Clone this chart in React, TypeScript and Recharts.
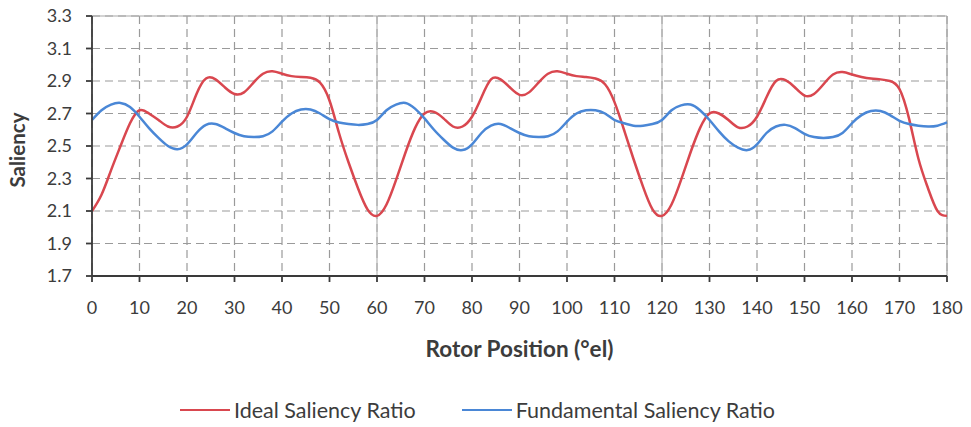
import {
  LineChart,
  Line,
  XAxis,
  YAxis,
  CartesianGrid,
  ReferenceLine,
  Legend,
} from 'recharts';

// rotor position, °el (2° steps)
const POSITIONS = [
  0, 2, 4, 6, 8, 10, 12, 14, 16, 18, 20, 22, 24, 26, 28, 30, 32, 34, 36, 38,
  40, 42, 44, 46, 48, 50, 52, 54, 56, 58, 60, 62, 64, 66, 68, 70, 72, 74, 76, 78,
  80, 82, 84, 86, 88, 90, 92, 94, 96, 98, 100, 102, 104, 106, 108, 110, 112, 114, 116, 118,
  120, 122, 124, 126, 128, 130, 132, 134, 136, 138, 140, 142, 144, 146, 148, 150, 152, 154, 156, 158,
  160, 162, 164, 166, 168, 170, 172, 174, 176, 178, 180,
];

const IDEAL = [
  2.10, 2.20, 2.35, 2.50, 2.64, 2.72, 2.70, 2.66, 2.62, 2.62, 2.68, 2.82, 2.915, 2.91, 2.86, 2.82, 2.83, 2.89, 2.945, 2.96,
  2.945, 2.93, 2.925, 2.92, 2.89, 2.78, 2.58, 2.40, 2.24, 2.11, 2.07, 2.14, 2.29, 2.46, 2.61, 2.70, 2.71, 2.67, 2.62, 2.62,
  2.68, 2.80, 2.91, 2.91, 2.86, 2.815, 2.83, 2.89, 2.945, 2.96, 2.945, 2.93, 2.925, 2.915, 2.88, 2.77, 2.60, 2.42, 2.25, 2.11,
  2.07, 2.14, 2.29, 2.46, 2.61, 2.70, 2.70, 2.66, 2.615, 2.62, 2.68, 2.80, 2.90, 2.905, 2.86, 2.81, 2.82, 2.88, 2.94, 2.955,
  2.94, 2.925, 2.915, 2.91, 2.90, 2.85, 2.67, 2.42, 2.24, 2.10, 2.07,
];

const FUNDAMENTAL = [
  2.66, 2.72, 2.755, 2.765, 2.74, 2.68, 2.61, 2.55, 2.50, 2.48, 2.51, 2.58, 2.63, 2.635, 2.61, 2.58, 2.56, 2.555, 2.56, 2.59,
  2.65, 2.70, 2.725, 2.725, 2.70, 2.665, 2.645, 2.635, 2.63, 2.635, 2.66, 2.72, 2.755, 2.765, 2.73, 2.67, 2.60, 2.54, 2.49, 2.475,
  2.51, 2.58, 2.625, 2.635, 2.61, 2.58, 2.56, 2.555, 2.56, 2.59, 2.65, 2.70, 2.72, 2.72, 2.70, 2.66, 2.64, 2.625, 2.625, 2.635,
  2.66, 2.72, 2.75, 2.755, 2.72, 2.66, 2.59, 2.53, 2.49, 2.475, 2.51, 2.58, 2.62, 2.63, 2.61, 2.575, 2.555, 2.55, 2.555, 2.58,
  2.64, 2.69, 2.715, 2.715, 2.69, 2.655, 2.635, 2.625, 2.62, 2.625, 2.645,
];

const X_TICKS = [0, 10, 20, 30, 40, 50, 60, 70, 80, 90, 100, 110, 120, 130, 140, 150, 160, 170, 180];
const Y_TICKS = [1.7, 1.9, 2.1, 2.3, 2.5, 2.7, 2.9, 3.1, 3.3];

const RED = '#d9474f';
const BLUE = '#4a87d6';
const FONT = 'Lato, "Open Sans", sans-serif';
const TEXT = '#3c3c3c';

const rows = POSITIONS.map((p, i) => ({
  pos: p,
  ideal: IDEAL[i],
  fundamental: FUNDAMENTAL[i],
}));

const LEGEND_ITEMS = [
  { name: 'Ideal Saliency Ratio', color: RED },
  { name: 'Fundamental Saliency Ratio', color: BLUE },
];

function ChartLegend() {
  return (
    <div
      style={{
        display: 'flex',
        justifyContent: 'center',
        gap: 46,
        fontFamily: FONT,
        fontSize: 21.5,
        lineHeight: '26px',
        color: TEXT,
        paddingRight: 14,
      }}
    >
      {LEGEND_ITEMS.map((it) => (
        <span key={it.name} style={{ display: 'flex', alignItems: 'center' }}>
          <span
            style={{
              display: 'inline-block',
              width: 50,
              height: 0,
              borderTop: `2.5px solid ${it.color}`,
              marginRight: 4,
            }}
          />
          {it.name}
        </span>
      ))}
    </div>
  );
}

export default function App() {
  return (
    <div style={{ width: 971, height: 427, background: '#fff' }}>
      <style>{'body{margin:0}'}</style>
      <LineChart
        width={971}
        height={427}
        data={rows}
        margin={{ top: 16, right: 24, left: 22, bottom: 4 }}
      >
        <CartesianGrid
          stroke="#9a9a9a"
          strokeDasharray="8 5"
          strokeWidth={1.2}
        />
        <ReferenceLine x={60} stroke="#b8b8b8" strokeWidth={1.2} />
        <ReferenceLine x={120} stroke="#b8b8b8" strokeWidth={1.2} />
        <ReferenceLine x={180} stroke="#a8a8a8" strokeWidth={1.2} />
        <ReferenceLine y={3.3} stroke="#a8a8a8" strokeWidth={1.2} />
        <XAxis
          dataKey="pos"
          type="number"
          domain={[0, 180]}
          ticks={X_TICKS}
          interval={0}
          height={121}
          stroke="#3a3a3a"
          strokeWidth={1.8}
          tickSize={6}
          tickMargin={19}
          tick={{ fill: TEXT, fontSize: 18, fontFamily: FONT }}
          label={({ viewBox }: any) => (
            <text
              x={viewBox.x + viewBox.width / 2}
              y={viewBox.y + 81}
              textAnchor="middle"
              fontFamily={FONT}
              fontWeight="bold"
              fontSize={22.5}
              fill={TEXT}
            >
              Rotor Position (°el)
            </text>
          )}
        />
        <YAxis
          type="number"
          domain={[1.7, 3.3]}
          ticks={Y_TICKS}
          interval={0}
          width={70}
          stroke="#3a3a3a"
          strokeWidth={1.8}
          tickSize={6}
          tickMargin={14}
          tickFormatter={(v: number) => v.toFixed(1)}
          tick={{ fill: TEXT, fontSize: 18, fontFamily: FONT }}
          label={({ viewBox }: any) => (
            <text
              x={0}
              y={0}
              transform={`translate(${25}, ${viewBox.y + viewBox.height / 2 + 4}) rotate(-90)`}
              textAnchor="middle"
              fontFamily={FONT}
              fontWeight="bold"
              fontSize={20.5}
              fill={TEXT}
            >
              Saliency
            </text>
          )}
        />
        <Legend verticalAlign="bottom" height={26} content={() => <ChartLegend />} />
        <Line
          type="natural"
          dataKey="ideal"
          name="Ideal Saliency Ratio"
          stroke={RED}
          strokeWidth={2.5}
          dot={false}
          isAnimationActive={false}
        />
        <Line
          type="natural"
          dataKey="fundamental"
          name="Fundamental Saliency Ratio"
          stroke={BLUE}
          strokeWidth={2.5}
          dot={false}
          isAnimationActive={false}
        />
      </LineChart>
    </div>
  );
}
